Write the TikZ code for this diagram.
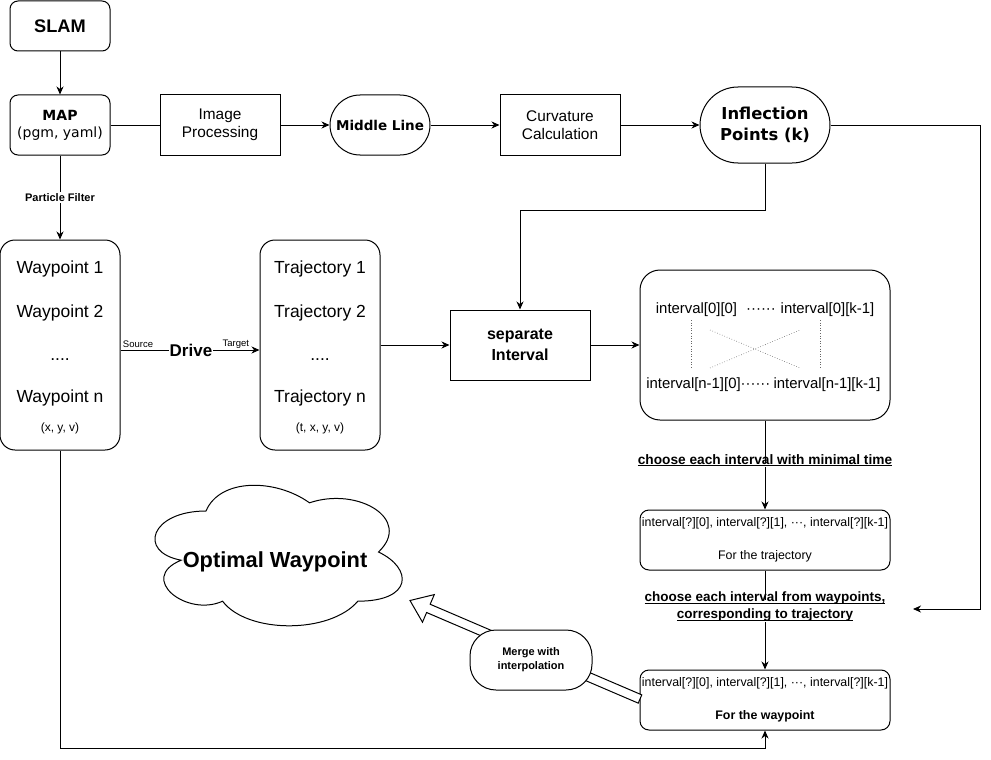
\documentclass[tikz,border=0pt]{standalone}
\usepackage{fontspec}
\setmainfont{Liberation Sans}
\newfontfamily\dv{DejaVu Sans}
\usetikzlibrary{arrows.meta,calc}
\newcommand\fsz[2]{\fontsize{#1}{#2}\selectfont}
\newcommand\uln[1]{\underline{\smash{#1}}}
\begin{document}
\begin{tikzpicture}[x=1pt,y=-1pt,
  line width=1pt,
  arr/.style={-{Stealth[length=8pt,width=7pt,inset=2.5pt]}},
  sq/.style={draw, inner sep=0pt, align=center},
  rnd/.style={sq, rounded corners=8pt},
  lab/.style={inner sep=1pt, fill=white, align=center},
  txt/.style={inner sep=0pt, anchor=base},
  dotl/.style={dotted, line width=0.6pt, gray!80!black},
]
\useasboundingbox (0,0) rectangle (991,760);

% top row
\node[rnd, minimum width=100pt, minimum height=50pt, font=\bfseries\fsz{18.2}{21}] (slam) at (60,26) {SLAM};
\node[rnd, minimum width=100pt, minimum height=60pt, font=\dv\fsz{14}{17}] (map) at (60,125) {\textbf{MAP}\\(pgm, yaml)};
\node[sq, minimum width=120pt, minimum height=60pt, font=\fsz{15.4}{18}] (img) at (220,125) {Image\\Processing};
\node[sq, rounded corners=30pt, minimum width=100pt, minimum height=60pt, font=\dv\bfseries\fsz{13.5}{16}] (mid) at (380,125) {Middle Line};
\node[sq, minimum width=120pt, minimum height=60pt, font=\fsz{15.4}{18}] (curv) at (560,125) {Curvature\\Calculation};
\node[sq, rounded corners=38pt, minimum width=130pt, minimum height=76pt, font=\dv\bfseries\fsz{16.4}{21.5}] (infl) at (765,125) {\raisebox{-2pt}{Inflection}\\\raisebox{-2pt}{Points (k)}};

% middle row
\node[rnd, rounded corners=15pt, minimum width=120pt, minimum height=210pt] (wp) at (60,345) {};
\node[txt, font=\fsz{17.5}{20}] (w1) at (60,273) {Waypoint 1};
\node[txt, font=\fsz{17.5}{20}] (w2) at (60,317) {Waypoint 2};
\node[txt, font=\fsz{17.5}{20}] (w3) at (60,360) {....};
\node[txt, font=\fsz{17.5}{20}] (wn) at (60,402) {Waypoint n};
\node[txt, font=\fsz{12}{14}] (wxy) at (60,431) {(x, y, v)};

\node[rnd, rounded corners=15pt, minimum width=120pt, minimum height=210pt] (tr) at (320,345) {};
\node[txt, font=\fsz{17.5}{20}] (t1) at (320,273) {Trajectory 1};
\node[txt, font=\fsz{17.5}{20}] (t2) at (320,317) {Trajectory 2};
\node[txt, font=\fsz{17.5}{20}] (t3) at (320,360) {....};
\node[txt, font=\fsz{17.5}{20}] (tn) at (320,402) {Trajectory n};
\node[txt, font=\fsz{12}{14}] (txy) at (320,431) {(t, x, y, v)};

\node[sq, minimum width=140pt, minimum height=70pt, font=\bfseries\fsz{16}{21}] (sep) at (520,345) {separate\\Interval};

\node[rnd, rounded corners=20pt, minimum width=250pt, minimum height=150pt] (itv) at (765,345) {};
\node[txt, font=\fsz{14.9}{17}] (i00) at (696.5,313) {interval[0][0]};
\node[txt, font=\fsz{14.9}{17}] (i0d) at (761,313) {······};
\node[txt, font=\fsz{14.9}{17}] (i0k) at (827.5,313) {interval[0][k-1]};
\node[txt, font=\fsz{14.9}{17}] (in0) at (693.5,388) {interval[n-1][0]};
\node[txt, font=\fsz{14.9}{17}] (ind) at (755.5,388) {······};
\node[txt, font=\fsz{14.9}{17}] (ink) at (827,388) {interval[n-1][k-1]};
\draw[dotl] (691,320) -- (691,369);
\draw[dotl] (820,320) -- (820,369);
\draw[dotl] (710,330) -- (800,368);
\draw[dotl] (710,368) -- (800,330);

% lower right boxes
\node[rnd, rounded corners=9pt, minimum width=250pt, minimum height=60pt] (bt1) at (765,540) {};
\node[txt, font=\fsz{12.4}{14}] (b1a) at (765,526) {interval[?][0], interval[?][1], ···, interval[?][k-1]};
\node[txt, font=\fsz{12.4}{14}] (b1b) at (765,559) {For the trajectory};
\node[rnd, rounded corners=9pt, minimum width=250pt, minimum height=60pt] (bt2) at (765,700) {};
\node[txt, font=\fsz{12.4}{14}] (b2a) at (765,686) {interval[?][0], interval[?][1], ···, interval[?][k-1]};
\node[txt, font=\bfseries\fsz{12.4}{14}] (b2b) at (765,719) {For the waypoint};

% cloud
\draw[fill=white] (206,511)
  .. controls (150.8,511) and (137,552) .. (181.16,560.2)
  .. controls (137,578.24) and (186.68,617.6) .. (222.56,601.2)
  .. controls (247.4,634) and (330.2,634) .. (357.8,601.2)
  .. controls (413,601.2) and (413,568.4) .. (378.5,552)
  .. controls (413,519.2) and (357.8,486.4) .. (309.5,502.8)
  .. controls (275,478.2) and (219.8,478.2) .. (206,511) -- cycle;
\node[txt, font=\bfseries\fsz{21.8}{25}] (opt) at (275,567) {Optimal Waypoint};

% hollow arrow
\coordinate (hA) at (640,699);
\coordinate (hT) at (410,600.5);
\coordinate (hH) at ($(hT)!20pt!(hA)$);
\draw[fill=white] ($(hA)!4.5pt!90:(hT)$) -- ($(hH)!4.5pt!90:(hT)$) -- ($(hH)!15pt!90:(hT)$) -- (hT)
  -- ($(hH)!15pt!-90:(hT)$) -- ($(hH)!4.5pt!-90:(hT)$) -- ($(hA)!4.5pt!-90:(hT)$) -- cycle;
\node[sq, rounded corners=26pt, fill=white, minimum width=122pt, minimum height=60pt, font=\bfseries\fsz{11}{14}] (merge) at (531,660) {Merge with\\interpolation};

% connectors
\draw[arr] (slam.south) -- (map.north);
\draw (map.east) -- (img.west);
\draw[arr] (img.east) -- (mid.west);
\draw[arr] (mid.east) -- (curv.west);
\draw[arr] (curv.east) -- (infl.west);
\coordinate (c1) at (913,609);
\draw[arr] (infl.east) -- (980,125) -- (980,609) -- (c1);
\draw[arr] (infl.south) -- (765,210) -| (sep.north);
\draw[arr] (map.south) -- (wp.north) node[midway, lab, font=\bfseries\fsz{11}{12}] (pf) {Particle Filter};
\draw[arr] ($(wp.east)+(0,5)$) -- ($(tr.west)+(0,5)$)
  node[pos=0.507, lab, inner sep=0.5pt, font=\bfseries\fsz{17}{20}] (drive) {Drive}
  node[pos=0.126, above, inner sep=1.5pt, font=\fsz{9.5}{11}] (src) {Source}
  node[pos=0.83, above, inner sep=1.5pt, font=\fsz{9.5}{11}] (tgt) {Target};
\draw[arr] (tr.east) -- (sep.west);
\draw[arr] (sep.east) -- (itv.west);
\draw[arr] (itv.south) -- (bt1.north) node[midway, lab, font=\bfseries\fsz{13.7}{15}] (l1) {\uln{choose each interval with minimal time}};
\draw[arr] (bt1.south) -- (bt2.north) node[pos=0.41, lab, font=\bfseries\fsz{13.5}{17.5}] (l2) {\uln{choose each interval from waypoints,}\\\uln{corresponding to trajectory}};
\draw[arr] (wp.south) -- (60,748) -- (765,748) -- (bt2.south);
\end{tikzpicture}
\end{document}
